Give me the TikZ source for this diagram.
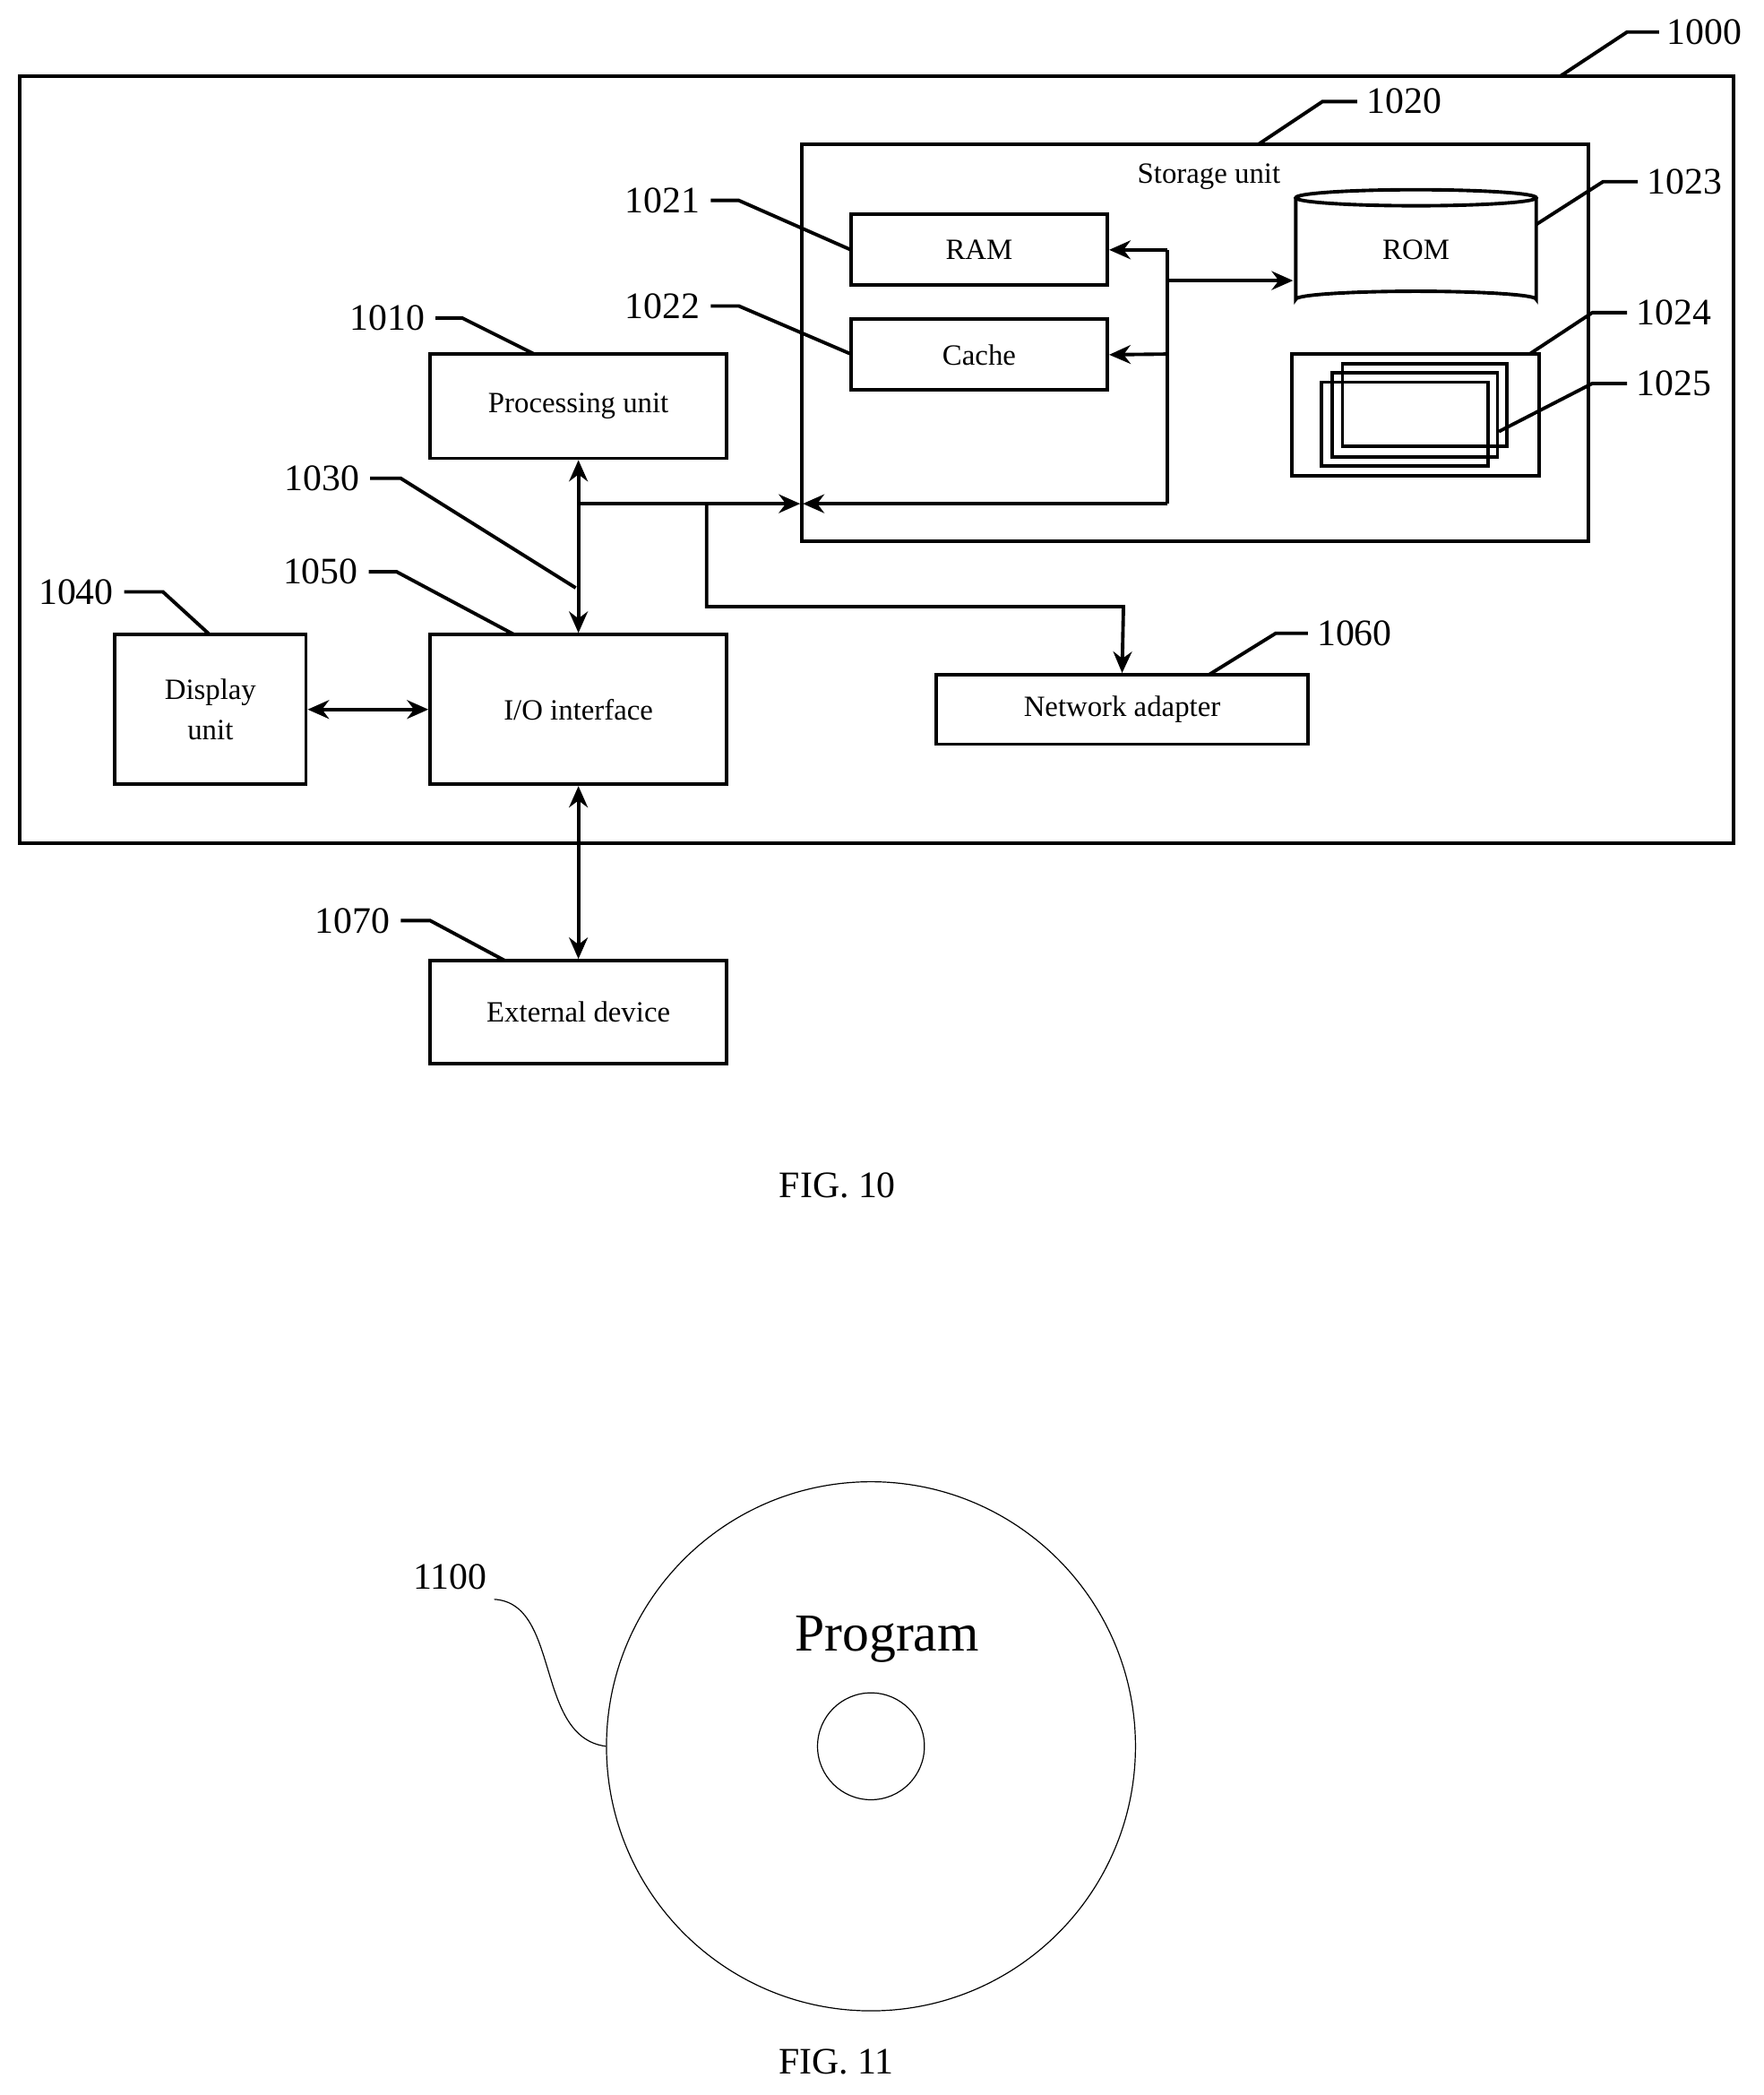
\documentclass[tikz,border=0pt]{standalone}
\usepackage{fontspec}
\setmainfont{Liberation Serif}
\usetikzlibrary{arrows.meta,shapes.geometric}
\begin{document}
\begin{tikzpicture}[x=0.5pt,y=-0.5pt,
  box/.style={draw,line width=1.3pt},
  lab/.style={font=\fontsize{11}{13}\selectfont},
  num/.style={font=\fontsize{14}{16}\selectfont},
  lead/.style={line width=1.3pt},
  ar/.style={line width=1.3pt,-{Stealth[length=8pt,width=7pt]}},
  dar/.style={line width=1.3pt,{Stealth[length=8pt,width=7pt]}-{Stealth[length=8pt,width=7pt]}}]
\useasboundingbox (0,0) rectangle (1320,1568);
% outer
\draw[box] (15,57) rectangle (1298,631);
\node[num] (n1000) at (1276,24) {1000};
\draw[lead] (1168,57) -- (1218,24) -- (1242,24);
% storage
\draw[box] (600,108) rectangle (1189,405);
\node[lab] (st) at (905,132) {Storage unit};
\node[num] (n1020) at (1051,76) {1020};
\draw[lead] (942,108) -- (990,76) -- (1016,76);
\node[box,lab,minimum width=96pt,minimum height=26.5pt] (ram) at (733,187) {RAM};
\node[box,lab,minimum width=96pt,minimum height=26.5pt] (cache) at (733,265.5) {Cache};
\node[num] (n1021) at (496,150) {1021};
\draw[lead] (532,150) -- (553,150) -- (637,187);
\node[num] (n1022) at (496,229) {1022};
\draw[lead] (532,229) -- (553,229) -- (637,265);
% ROM
\draw[line width=1.3pt] (970,148) -- (970,224) arc[start angle=180,end angle=360,x radius=90,y radius=6] -- (1150,148);
\draw[line width=1.3pt] (1060,148) ellipse[x radius=90,y radius=6];
\node[lab] (rom) at (1060,187) {ROM};
\node[num] (n1023) at (1261,136) {1023};
\draw[lead] (1150,168) -- (1200,136) -- (1226,136);
% 1024
\draw[box] (967,265) rectangle (1152,356);
\draw[box] (1005,272) rectangle (1128,334);
\draw[box] (997,279) rectangle (1121,342);
\draw[box] (989,286) rectangle (1114,349);
\node[num] (n1024) at (1253,234) {1024};
\draw[lead] (1145,265) -- (1192,234) -- (1218,234);
\node[num] (n1025) at (1253,287) {1025};
\draw[lead] (1122,323) -- (1192,287) -- (1218,287);
% bus
\coordinate (b1) at (874,187);
\coordinate (b2) at (874,265);
\coordinate (b3) at (874,377);
\draw[lead] (b1) -- (b3);
\draw[ar] (b1) -- (ram.east);
\draw[ar] (b2) -- (cache.east);
\draw[ar] (874,210) -- (968,210);
\draw[ar] (b3) -- (601,377);
% processing
\node[box,lab,minimum width=111pt,minimum height=39pt] (pu) at (433,304) {Processing unit};
\node[num] (n1010) at (290,238) {1010};
\draw[lead] (326,238) -- (346,238) -- (400,265);
\node[box,lab,minimum width=111pt,minimum height=56pt] (io) at (433,531) {I/O interface};
\draw[dar] (pu.south) -- (io.north);
\draw[ar] (433,377) -- (599,377);
\node[num] (n1030) at (241,358) {1030};
\draw[lead] (277,358) -- (300,358) -- (431,440);
\node[num] (n1050) at (240,428) {1050};
\draw[lead] (276,428) -- (297,428) -- (385,475);
% network
\node[box,lab,minimum width=139pt,minimum height=26pt] (na) at (840,531) {Network adapter};
\draw[ar] (529,377) -- (529,454) -- (841,454) -- (na.north);
\node[num] (n1060) at (1014,474) {1060};
\draw[lead] (905,505) -- (955,474) -- (979,474);
% display
\node[box,lab,minimum width=71.5pt,minimum height=56pt,align=center] (du) at (157.5,531) {Display\\[2pt]unit};
\draw[dar] (du.east) -- (io.west);
\node[num] (n1040) at (57,443) {1040};
\draw[lead] (93,443) -- (122,443) -- (157,475);
% external
\node[box,lab,minimum width=111pt,minimum height=38.5pt] (ext) at (433,757.5) {External device};
\draw[dar] (io.south) -- (ext.north);
\node[num] (n1070) at (264,689) {1070};
\draw[lead] (300,689) -- (322,689) -- (378,719);
\node[num] (f10) at (627,887) {FIG. 10};
% FIG 11
\node[draw,circle,line width=0.4pt,minimum size=198pt] (disc) at (652,1307) {};
\node[draw,circle,line width=0.4pt,minimum size=40pt] (hole) at (652,1307) {};
\node[font=\fontsize{20}{24}\selectfont] (prog) at (664,1227) {Program};
\node[num] (n1100) at (337,1180) {1100};
\draw[line width=0.4pt] (disc.west) .. controls (400,1300) and (420,1200) .. (370,1197);
\node[num] (f11) at (626,1543) {FIG. 11};
\end{tikzpicture}
\end{document}
